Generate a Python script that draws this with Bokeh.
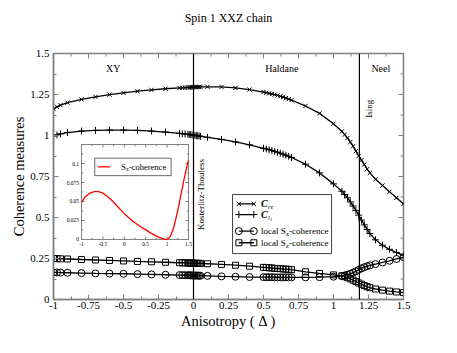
import math
from bokeh.plotting import figure
from bokeh.models import Range1d, FixedTicker, Span, LinearAxis
from bokeh.core.properties import value
from bokeh.embed import file_html
from bokeh.resources import INLINE

# ---------------- data ----------------
TITLE = "Spin 1 XXZ chain"
X_LABEL = "Anisotropy ( \u0394 )"
Y_LABEL = "Coherence measures"

DELTA = [-1.0, -0.975, -0.95, -0.9, -0.8, -0.7, -0.6, -0.5, -0.4, -0.3, -0.2, -0.1,
         -0.08, -0.06, -0.04, -0.03, -0.02, -0.01, 0.0, 0.01, 0.02, 0.03, 0.04, 0.05,
         0.1, 0.2, 0.3, 0.4,
         0.5, 0.52, 0.54, 0.56, 0.58, 0.6, 0.62, 0.64, 0.66, 0.68, 0.7,
         0.8, 0.9, 1.0,
         1.06, 1.08, 1.1, 1.12, 1.14, 1.16, 1.18, 1.2, 1.22, 1.24, 1.26,
         1.3, 1.35, 1.4, 1.45, 1.5]

C_RE = [1.162, 1.175, 1.185, 1.200, 1.220, 1.236, 1.249, 1.260, 1.270, 1.278, 1.285, 1.290,
        1.291, 1.292, 1.293, 1.293, 1.294, 1.294, 1.295, 1.295, 1.295, 1.296, 1.296, 1.296,
        1.297, 1.296, 1.290, 1.280,
        1.265, 1.261, 1.257, 1.253, 1.249, 1.244, 1.239, 1.234, 1.228, 1.222, 1.216,
        1.180, 1.135, 1.072,
        1.025, 1.005, 0.985, 0.960, 0.935, 0.905, 0.875, 0.850, 0.823, 0.795, 0.772,
        0.733, 0.695, 0.657, 0.620, 0.583]

C_L1 = [0.997, 1.004, 1.010, 1.018, 1.027, 1.031, 1.033, 1.033, 1.031, 1.027, 1.021, 1.013,
        1.011, 1.009, 1.007, 1.006, 1.005, 1.003, 1.002, 1.001, 0.999, 0.998, 0.997, 0.995,
        0.989, 0.976, 0.961, 0.943,
        0.922, 0.918, 0.913, 0.908, 0.903, 0.898, 0.892, 0.886, 0.880, 0.873, 0.866,
        0.825, 0.772, 0.705,
        0.660, 0.640, 0.620, 0.595, 0.570, 0.543, 0.514, 0.484, 0.455, 0.427, 0.402,
        0.364, 0.331, 0.306, 0.286, 0.270]

SX_LOCAL = [0.165, 0.165, 0.164, 0.163, 0.161, 0.159, 0.158, 0.157, 0.155, 0.153, 0.151, 0.149,
            0.149, 0.148, 0.148, 0.148, 0.147, 0.147, 0.146, 0.146, 0.146, 0.146, 0.145, 0.145,
            0.144, 0.141, 0.139, 0.137,
            0.136, 0.136, 0.136, 0.136, 0.135, 0.135, 0.135, 0.135, 0.135, 0.135, 0.135,
            0.135, 0.136, 0.139,
            0.144, 0.147, 0.151, 0.157, 0.164, 0.172, 0.181, 0.190, 0.197, 0.203, 0.208,
            0.216, 0.226, 0.236, 0.247, 0.258]

SZ_LOCAL = [0.250, 0.249, 0.248, 0.247, 0.244, 0.241, 0.238, 0.235, 0.232, 0.230, 0.227, 0.224,
            0.224, 0.223, 0.223, 0.222, 0.222, 0.222, 0.221, 0.221, 0.221, 0.220, 0.220, 0.220,
            0.218, 0.214, 0.209, 0.203,
            0.196, 0.195, 0.193, 0.192, 0.190, 0.189, 0.188, 0.186, 0.185, 0.184, 0.182,
            0.169, 0.159, 0.150,
            0.144, 0.139, 0.133, 0.126, 0.118, 0.110, 0.101, 0.093, 0.085, 0.078, 0.072,
            0.064, 0.057, 0.051, 0.046, 0.042]

INSET_DELTA = [-1.0, -0.9, -0.8, -0.7, -0.6, -0.5, -0.4, -0.3, -0.2, -0.1, 0.0, 0.1, 0.2,
               0.3, 0.4, 0.5, 0.6, 0.7, 0.8, 0.9, 0.95, 1.0, 1.05, 1.1, 1.15, 1.2, 1.25,
               1.3, 1.35, 1.4, 1.45, 1.5]
INSET_SX = [0.049, 0.057, 0.061, 0.063, 0.063, 0.061, 0.057, 0.052, 0.046, 0.040, 0.034,
            0.029, 0.024, 0.020, 0.016, 0.013, 0.009, 0.006, 0.003, 0.001, 0.0003, 0.0,
            0.002, 0.007, 0.015, 0.026, 0.038, 0.052, 0.066, 0.080, 0.093, 0.104]

X_TICKS = [-1, -0.75, -0.5, -0.25, 0, 0.25, 0.5, 0.75, 1, 1.25, 1.5]
X_TICK_LABELS = ["-1", "-0.75", "-0.5", "-0.25", "0", "0.25", "0.5", "0.75", "1", "1.25", "1.5"]
Y_TICKS = [0, 0.25, 0.5, 0.75, 1, 1.25, 1.5]
Y_TICK_LABELS = ["0", "0.25", "0.5", "0.75", "1", "1.25", "1.5"]

INSET_X_TICKS = [-1, -0.5, 0, 0.5, 1, 1.5]
INSET_X_TICK_LABELS = ["-1", "-0.5", "0", "0.5", "1", "1.5"]
INSET_Y_TICKS = [0, 0.025, 0.05, 0.075, 0.1]
INSET_Y_TICK_LABELS = ["0", "0.025", "0.05", "0.075", "0.1"]

PHASE_BOUNDARIES = [0.0, 1.185]
PHASE_NAMES = ["XY", "Haldane", "Neel"]
PHASE_NAME_X = [-0.574, 0.631, 1.338]
POINT_NAMES = ["Kosterlitz-Thouless", "Ising"]
POINT_NAME_X = [0.05, 1.252]
POINT_NAME_Y = [0.64, 1.163]

FONT = "Liberation Serif"
GRAY = "#808080"

X0, X1 = -1.0, 1.5
Y0, Y1 = 0.0, 1.5

# ---------------- figure ----------------
p = figure(width=441, height=345, x_range=Range1d(X0, X1), y_range=Range1d(Y0, Y1),
           output_backend="svg", toolbar_location=None,
           min_border_left=53, min_border_right=38, min_border_top=53, min_border_bottom=46)
p.background_fill_color = "white"
p.border_fill_color = "white"
p.outline_line_color = GRAY
p.outline_line_width = 1.5
p.xgrid.visible = False
p.ygrid.visible = False

def mids(t):
    return [(a + b) / 2 for a, b in zip(t[:-1], t[1:])]

xt = FixedTicker(ticks=X_TICKS, minor_ticks=mids(X_TICKS))
yt = FixedTicker(ticks=Y_TICKS, minor_ticks=mids(Y_TICKS))

def style_axis(ax):
    ax.axis_line_color = GRAY
    ax.axis_line_width = 1.5
    ax.major_tick_line_color = GRAY
    ax.minor_tick_line_color = GRAY
    ax.major_tick_in = 5
    ax.major_tick_out = 0
    ax.minor_tick_in = 3
    ax.minor_tick_out = 0
    ax.major_label_text_font = FONT
    ax.major_label_text_color = "black"
    ax.major_label_text_font_size = "11px"
    ax.axis_label_text_font = FONT
    ax.axis_label_text_font_size = "14.5px"
    ax.axis_label_text_font_style = "normal"
    ax.axis_label_text_color = "black"

xa = p.below[0]
xa.ticker = xt
xa.major_label_overrides = dict(zip(X_TICKS, X_TICK_LABELS))
style_axis(xa)
xa.major_label_standoff = 2
xa.axis_label = X_LABEL
xa.axis_label_standoff = 1

ya = p.left[0]
ya.ticker = yt
ya.major_label_overrides = dict(zip(Y_TICKS, Y_TICK_LABELS))
style_axis(ya)
ya.major_label_standoff = 4
ya.axis_label = Y_LABEL
ya.axis_label_standoff = 0

# chart title, carried by a tick-less top axis so its height above the frame can be set
title_axis = LinearAxis(ticker=FixedTicker(ticks=[]), axis_label=TITLE,
                        axis_line_color=None, major_tick_line_color=None,
                        minor_tick_line_color=None, axis_label_standoff=29,
                        axis_label_text_font=FONT, axis_label_text_font_size="12px",
                        axis_label_text_font_style="normal", axis_label_text_color="black")
p.add_layout(title_axis, "above")

# mirrored inward ticks on top and right edges
for ticks, ln in ((X_TICKS, 5), (mids(X_TICKS), 3)):
    p.ray(x=ticks, y=[Y1] * len(ticks), length=ln, length_units="screen",
          angle=-math.pi / 2, line_color=GRAY, line_width=1)
for ticks, ln in ((Y_TICKS, 5), (mids(Y_TICKS), 3)):
    p.ray(x=[X1] * len(ticks), y=ticks, length=ln, length_units="screen",
          angle=math.pi, line_color=GRAY, line_width=1)

for loc in PHASE_BOUNDARIES:
    p.add_layout(Span(location=loc, dimension="height", line_color="black", line_width=1.2))

# curves
p.line(DELTA, C_RE, line_color="black", line_width=1.3)
p.scatter(DELTA, C_RE, marker="x", size=6, line_color="black", line_width=1)
p.line(DELTA, C_L1, line_color="black", line_width=1.3)
p.scatter(DELTA, C_L1, marker="cross", size=7, line_color="black", line_width=1)
p.line(DELTA, SX_LOCAL, line_color="black", line_width=1.3)
p.scatter(DELTA, SX_LOCAL, marker="circle", size=7, line_color="black", fill_alpha=0, line_width=1)
p.line(DELTA, SZ_LOCAL, line_color="black", line_width=1.3)
p.scatter(DELTA, SZ_LOCAL, marker="square", size=6, line_color="black", fill_alpha=0, line_width=1)

# phase names
p.text(x=PHASE_NAME_X, y=[1.407] * len(PHASE_NAMES), text=PHASE_NAMES,
       text_font=value(FONT), text_font_size="10px", text_align="center",
       text_baseline="middle", text_color="black")
p.text(x=POINT_NAME_X, y=POINT_NAME_Y, text=POINT_NAMES, angle=math.pi / 2,
       text_font=value(FONT), text_font_size="9px", text_align="center",
       text_baseline="middle", text_color="black")

# main legend (manual, to allow subscripts)
LEG_L, LEG_R, LEG_B, LEG_T = 0.279, 0.986, 0.28, 0.64
LEG_ROWS = [0.583, 0.518, 0.417, 0.346]
LEG_X0, LEG_X1, LEG_TX = 0.324, 0.431, 0.483
p.quad(left=[LEG_L], right=[LEG_R], bottom=[LEG_B], top=[LEG_T],
       fill_color="white", line_color="#404040", line_width=1)
markers = [("x", 6), ("cross", 7), ("circle", 7), ("square", 6)]
for (mk, sz), yy in zip(markers, LEG_ROWS):
    p.line([LEG_X0, LEG_X1], [yy, yy], line_color="black", line_width=1.3)
    p.scatter([LEG_X0, LEG_X1], [yy, yy], marker=mk, size=sz, line_color="black",
              fill_alpha=0, line_width=1)

def piece(x, y, txt, size, dx=0, dy=0, style="normal", sub=None):
    (sub or p).text(x=[x], y=[y], text=[txt], x_offset=dx, y_offset=dy,
                    text_font=value(FONT), text_font_size=size, text_font_style=style,
                    text_baseline="middle", text_align="left", text_color="black")

piece(LEG_TX, LEG_ROWS[0], "C", "10px", style="bold italic")
piece(LEG_TX, LEG_ROWS[0], "re", "6.5px", dx=7, dy=3, style="italic")
piece(LEG_TX, LEG_ROWS[1], "C", "10px", style="bold italic")
piece(LEG_TX, LEG_ROWS[1], "l", "6.5px", dx=7, dy=3, style="italic")
piece(LEG_TX, LEG_ROWS[1], "1", "4.5px", dx=9, dy=5)
for row, comp in ((2, "x"), (3, "z")):
    piece(LEG_TX, LEG_ROWS[row], "local S", "9px")
    piece(LEG_TX, LEG_ROWS[row], comp, "6px", dx=25, dy=3)
    piece(LEG_TX, LEG_ROWS[row], "-coherence", "9px", dx=28)

# ---------------- inset ----------------
IN_X = (-1.0, 1.5)
IN_Y = (0.0, 0.125)
sub = p.subplot(x_source=Range1d(*IN_X), y_source=Range1d(*IN_Y),
                x_target=Range1d(-0.80, -0.036), y_target=Range1d(0.366, 0.945))
sub.quad(left=[IN_X[0]], right=[IN_X[1]], bottom=[IN_Y[0]], top=[IN_Y[1]],
         fill_color="white", line_color=GRAY, line_width=1)

def rays(xs, ys, ang, length):
    sub.ray(x=xs, y=ys, length=length, length_units="screen", angle=ang,
            line_color=GRAY, line_width=1)

xm = mids(INSET_X_TICKS)
ym = mids(INSET_Y_TICKS) + [0.1125]
for ticks, ln in ((INSET_X_TICKS, 3), (xm, 1.8)):
    rays(ticks, [IN_Y[0]] * len(ticks), math.pi / 2, ln)
    rays(ticks, [IN_Y[1]] * len(ticks), -math.pi / 2, ln)
for ticks, ln in ((INSET_Y_TICKS, 3), (ym, 1.8)):
    rays([IN_X[0]] * len(ticks), ticks, 0, ln)
    rays([IN_X[1]] * len(ticks), ticks, math.pi, ln)

sub.text(x=INSET_X_TICKS, y=[IN_Y[0]] * len(INSET_X_TICKS), text=INSET_X_TICK_LABELS,
         y_offset=2.5, text_font=value(FONT), text_font_size="5.5px",
         text_align="center", text_baseline="top", text_color="black")
sub.text(x=[IN_X[0]] * len(INSET_Y_TICKS), y=INSET_Y_TICKS, text=INSET_Y_TICK_LABELS,
         x_offset=-2.5, text_font=value(FONT), text_font_size="5.5px",
         text_align="right", text_baseline="middle", text_color="black")

sub.line(INSET_DELTA, INSET_SX, line_color="red", line_width=1.3)

# inset legend
sub.quad(left=[-0.69], right=[1.095], bottom=[0.084], top=[0.107],
         fill_color="white", line_color="#404040", line_width=0.8)
sub.line([-0.62, -0.33], [0.0955, 0.0955], line_color="red", line_width=1.3)
piece(-0.07, 0.0955, "S", "8.5px", sub=sub)
piece(-0.07, 0.0955, "x", "5.5px", dx=4.7, dy=2.5, sub=sub)
piece(-0.07, 0.0955, "-coherence", "8.5px", dx=7.6, sub=sub)

open("out.html", "w").write(file_html(p, INLINE))
